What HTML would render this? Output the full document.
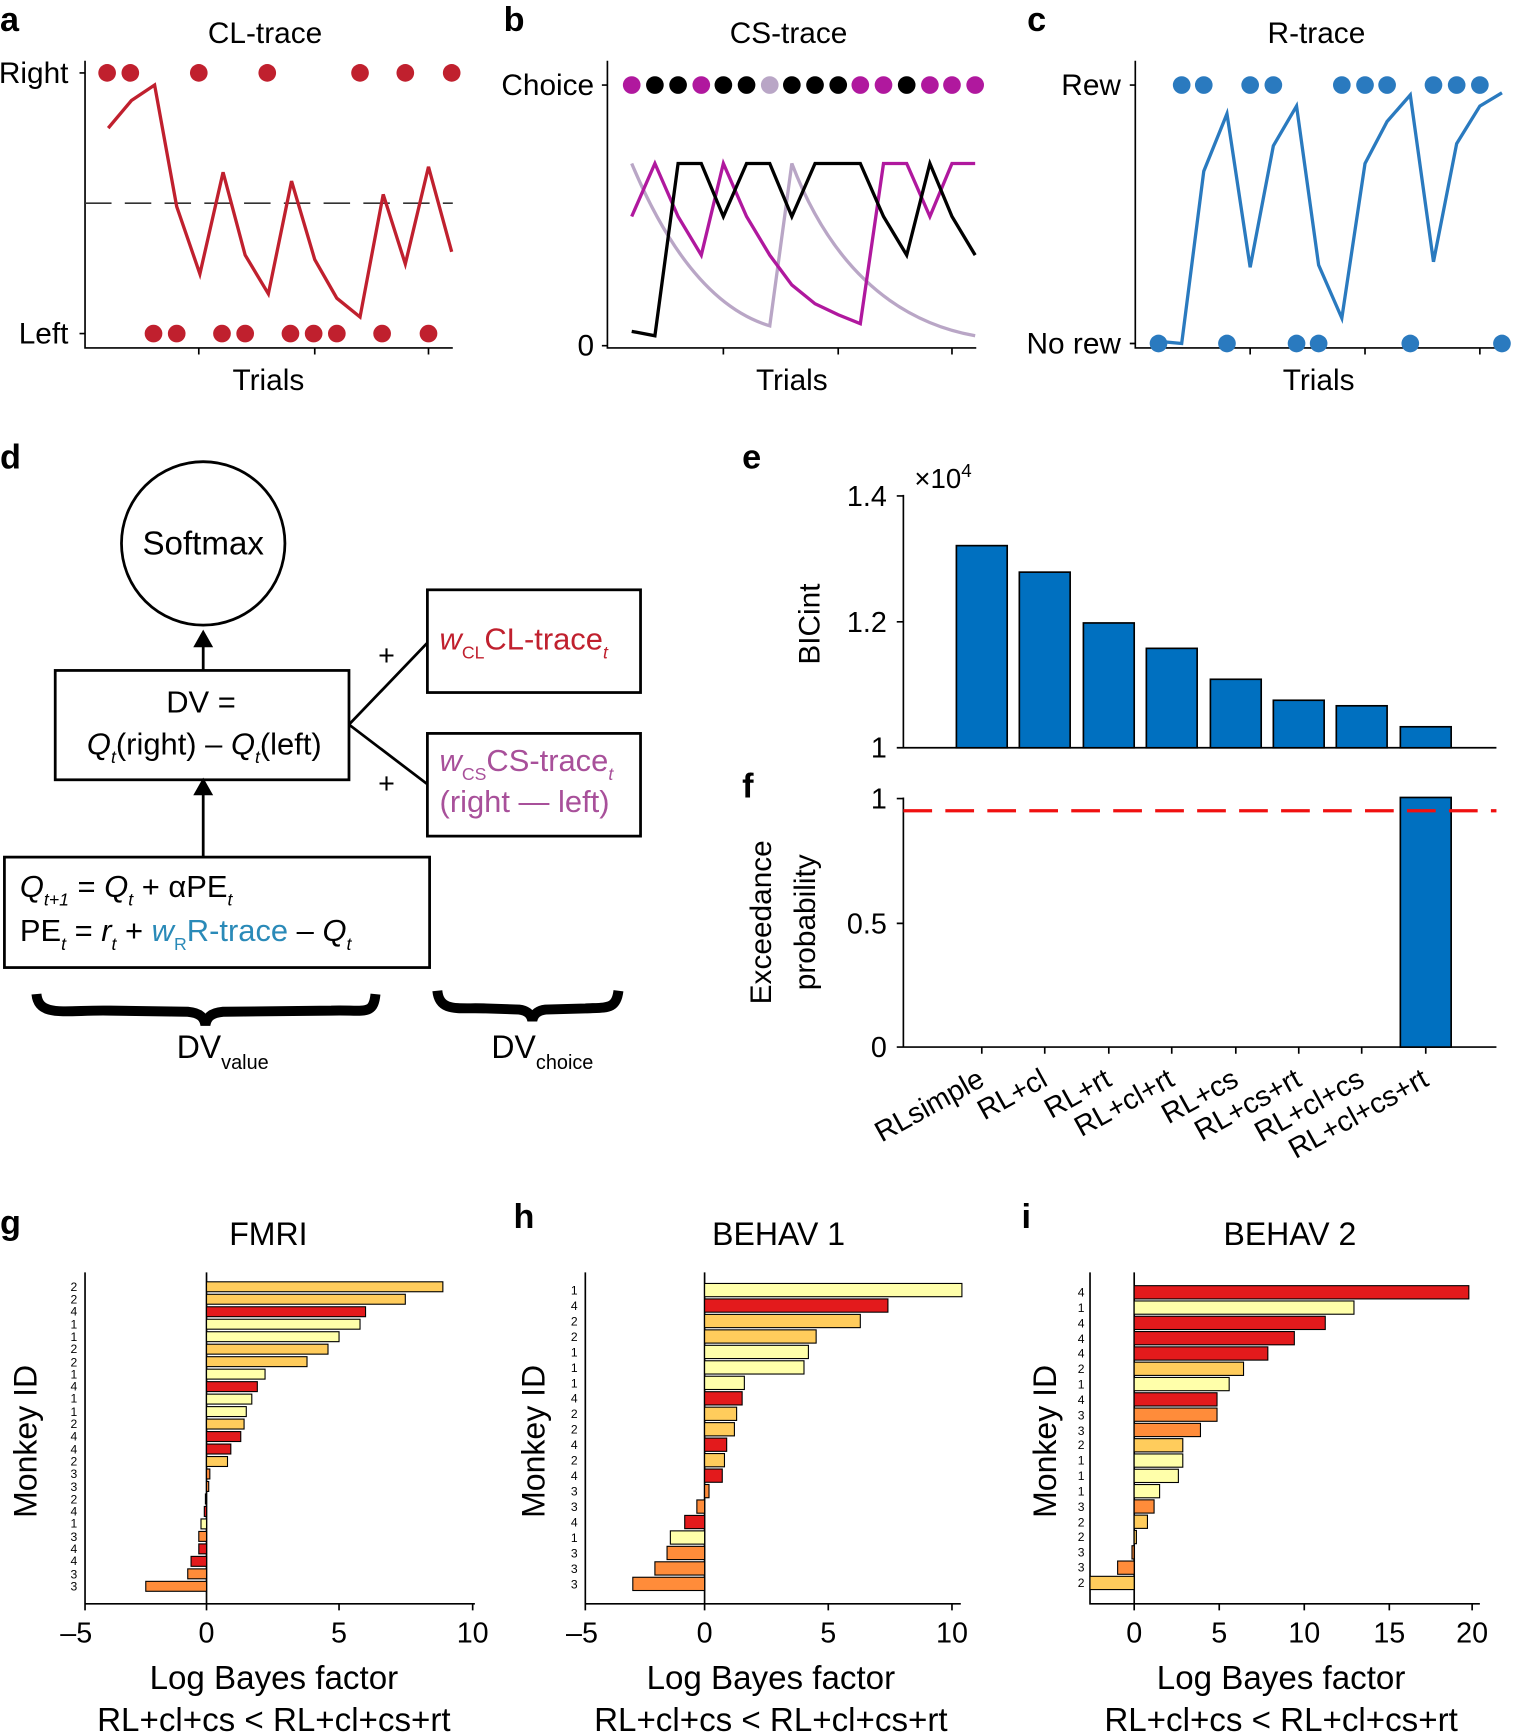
<!DOCTYPE html>
<html><head><meta charset="utf-8"><style>
html,body{margin:0;padding:0;background:#fff}
svg{display:block}
text{font-family:"Liberation Sans",Arial,sans-serif;fill:#000}
.t{font-size:27px}.tk{font-size:26px}.lb{font-size:31px;font-weight:bold}.sm{font-size:11px}
</style></head><body>
<svg width="1513" height="1733" viewBox="0 0 1370 1569" preserveAspectRatio="none" xmlns="http://www.w3.org/2000/svg">
<g stroke="#000" stroke-width="1.5" fill="none">
<path d="M77,55V315H410M72,66H77M72,302H77M180,315v6M285,315v6M388,315v6"/>
<path d="M77,184H410" stroke="#333" stroke-dasharray="24,12"/>
<path d="M550,55V315H884M545,77H550M545,313H550M655,315v6M759,315v6M862,315v6"/>
<path d="M1028,55V315H1362M1023,77H1028M1023,311H1028M1132,315v6M1236,315v6M1340,315v6"/>
</g>
<text class="lb" x="0" y="28">a</text><text class="lb" x="456" y="28">b</text><text class="lb" x="930" y="28">c</text>
<text class="t" x="240" y="39" text-anchor="middle">CL-trace</text>
<text class="t" x="714" y="39" text-anchor="middle">CS-trace</text>
<text class="t" x="1192" y="39" text-anchor="middle">R-trace</text>
<text class="t" x="62" y="75" text-anchor="end">Right</text><text class="t" x="62" y="311" text-anchor="end">Left</text>
<text class="t" x="538" y="86" text-anchor="end">Choice</text><text class="t" x="538" y="322" text-anchor="end">0</text>
<text class="t" x="1015" y="86" text-anchor="end">Rew</text><text class="t" x="1015" y="320" text-anchor="end">No rew</text>
<text class="t" x="243" y="353" text-anchor="middle">Trials</text>
<text class="t" x="717" y="353" text-anchor="middle">Trials</text>
<text class="t" x="1194" y="353" text-anchor="middle">Trials</text>
<g fill="#c0202e">
<circle cx="97" cy="66" r="8"/><circle cx="118" cy="66" r="8"/><circle cx="180" cy="66" r="8"/><circle cx="242" cy="66" r="8"/><circle cx="326" cy="66" r="8"/><circle cx="367" cy="66" r="8"/><circle cx="409" cy="66" r="8"/>
<circle cx="139" cy="302" r="8"/><circle cx="160" cy="302" r="8"/><circle cx="201" cy="302" r="8"/><circle cx="222" cy="302" r="8"/><circle cx="263" cy="302" r="8"/><circle cx="284" cy="302" r="8"/><circle cx="305" cy="302" r="8"/><circle cx="346" cy="302" r="8"/><circle cx="388" cy="302" r="8"/>
</g>
<polyline fill="none" stroke="#c0202e" stroke-width="3" points="98,116 119,91 140,77 160,187 181,248 202,156 222,231 243,266 264,164 285,235 305,270 326,287 347,176 367,239 388,151 409,228"/>
<g>
<circle cx="572" cy="77" r="8" fill="#b0189e"/><circle cx="593" cy="77" r="8"/><circle cx="614" cy="77" r="8"/><circle cx="635" cy="77" r="8" fill="#b0189e"/><circle cx="655" cy="77" r="8"/><circle cx="676" cy="77" r="8"/><circle cx="697" cy="77" r="8" fill="#b9a6c6"/><circle cx="717" cy="77" r="8"/><circle cx="738" cy="77" r="8"/><circle cx="759" cy="77" r="8"/><circle cx="779" cy="77" r="8" fill="#b0189e"/><circle cx="800" cy="77" r="8" fill="#b0189e"/><circle cx="821" cy="77" r="8"/><circle cx="842" cy="77" r="8" fill="#b0189e"/><circle cx="862" cy="77" r="8" fill="#b0189e"/><circle cx="883" cy="77" r="8" fill="#b0189e"/>
</g>
<path d="M572,148C600,215 640,278 697,295L717,148C750,235 805,290 883,304" fill="none" stroke="#b9a6c6" stroke-width="3"/>
<polyline fill="none" stroke="#b0189e" stroke-width="3" points="572,196 593,148 614,196 635,231 655,148 676,196 697,231 717,258 738,275 759,285 779,293 800,148 821,148 842,196 862,148 883,148"/>
<polyline fill="none" stroke="#000" stroke-width="3" points="572,300 593,304 614,148 635,148 655,196 676,148 697,148 717,196 738,148 759,148 779,148 800,196 821,231 842,148 862,196 883,231"/>
<g fill="#2a7abf">
<circle cx="1070" cy="77" r="8"/><circle cx="1090" cy="77" r="8"/><circle cx="1132" cy="77" r="8"/><circle cx="1153" cy="77" r="8"/><circle cx="1215" cy="77" r="8"/><circle cx="1236" cy="77" r="8"/><circle cx="1256" cy="77" r="8"/><circle cx="1298" cy="77" r="8"/><circle cx="1319" cy="77" r="8"/><circle cx="1340" cy="77" r="8"/>
<circle cx="1049" cy="311" r="8"/><circle cx="1111" cy="311" r="8"/><circle cx="1174" cy="311" r="8"/><circle cx="1194" cy="311" r="8"/><circle cx="1277" cy="311" r="8"/><circle cx="1360" cy="311" r="8"/>
</g>
<polyline fill="none" stroke="#2a7abf" stroke-width="3" points="1049,309 1070,311 1090,155 1111,103 1132,242 1153,132 1174,96 1194,240 1215,288 1236,148 1256,110 1277,86 1298,237 1319,130 1340,96 1360,84"/>

<text class="lb" x="0" y="424">d</text>
<g stroke="#000" stroke-width="2.5" fill="none">
<circle cx="184" cy="492" r="74"/>
<rect x="50" y="607" width="266" height="99"/>
<rect x="4" y="776" width="385" height="100"/>
<rect x="387" y="534" width="193" height="93"/>
<rect x="387" y="664" width="193" height="93"/>
<path d="M184,776V716M184,607V580M316,656L387,582M316,656L387,710"/>
</g>
<path d="M175,720L184,704L193,720ZM175,586L184,570L193,586Z" fill="#000"/>
<text x="184" y="502" text-anchor="middle" style="font-size:30px">Softmax</text>
<text x="182" y="645" text-anchor="middle" style="font-size:28px">DV =</text>
<text x="185" y="683" text-anchor="middle" style="font-size:28px"><tspan font-style="italic">Q</tspan><tspan font-size="16" font-style="italic" dy="8">t</tspan><tspan dy="-8">(right) – </tspan><tspan font-style="italic">Q</tspan><tspan font-size="16" font-style="italic" dy="8">t</tspan><tspan dy="-8">(left)</tspan></text>
<text x="350" y="602" text-anchor="middle" style="font-size:26px">+</text>
<text x="350" y="718" text-anchor="middle" style="font-size:26px">+</text>
<text x="398" y="588" style="font-size:28px;fill:#c0202e"><tspan font-style="italic" style="fill:#c0202e">w</tspan><tspan font-size="16" dy="8" style="fill:#c0202e">CL</tspan><tspan dy="-8" style="fill:#c0202e">CL-trace</tspan><tspan font-size="16" font-style="italic" dy="8" style="fill:#c0202e">t</tspan></text>
<text x="398" y="698" style="font-size:28px;fill:#a8509a"><tspan font-style="italic" style="fill:#a8509a">w</tspan><tspan font-size="16" dy="8" style="fill:#a8509a">CS</tspan><tspan dy="-8" style="fill:#a8509a">CS-trace</tspan><tspan font-size="16" font-style="italic" dy="8" style="fill:#a8509a">t</tspan></text>
<text x="398" y="735" style="font-size:28px;fill:#a8509a">(right — left)</text>
<text x="18" y="812" style="font-size:28px"><tspan font-style="italic">Q</tspan><tspan font-size="16" font-style="italic" dy="8">t+1</tspan><tspan dy="-8"> = </tspan><tspan font-style="italic">Q</tspan><tspan font-size="16" font-style="italic" dy="8">t</tspan><tspan dy="-8"> + αPE</tspan><tspan font-size="16" font-style="italic" dy="8">t</tspan></text>
<text x="18" y="852" style="font-size:28px"><tspan>PE</tspan><tspan font-size="16" font-style="italic" dy="8">t</tspan><tspan dy="-8">  = </tspan><tspan font-style="italic">r</tspan><tspan font-size="16" font-style="italic" dy="8">t</tspan><tspan dy="-8"> + </tspan><tspan font-style="italic" style="fill:#2a8ab8">w</tspan><tspan font-size="16" dy="8" style="fill:#2a8ab8">R</tspan><tspan dy="-8" style="fill:#2a8ab8">R-trace</tspan><tspan> – </tspan><tspan font-style="italic">Q</tspan><tspan font-size="16" font-style="italic" dy="8">t</tspan></text>
<path d="M33,900C35,922 60,914 100,915L170,916C182,917 185,922 186,928C187,922 190,917 202,916L300,915C330,914 338,920 340,900" fill="none" stroke="#000" stroke-width="9"/>
<path d="M396,897C398,917 415,912 440,913L470,914C478,915 481,919 482,924C483,919 486,915 494,914L530,913C550,912 558,914 560,897" fill="none" stroke="#000" stroke-width="9"/>
<text x="160" y="958" style="font-size:29px">DV<tspan font-size="18" dy="10">value</tspan></text>
<text x="445" y="958" style="font-size:29px">DV<tspan font-size="18" dy="10">choice</tspan></text>

<text class="lb" x="672" y="424">e</text>
<g stroke="#000" stroke-width="1.5" fill="none"><path d="M818,448V677H1355M812,449H818M812,563H818M812,677H818"/></g>
<text class="tk" x="803" y="458" text-anchor="end">1.4</text>
<text class="tk" x="803" y="572" text-anchor="end">1.2</text>
<text class="tk" x="803" y="686" text-anchor="end">1</text>
<text x="828" y="442" style="font-size:25px">×10<tspan font-size="17" dy="-10">4</tspan></text>
<text class="t" transform="translate(742,565) rotate(-90)" text-anchor="middle">BICint</text>
<g fill="#0070c0" stroke="#000" stroke-width="1.5">
<rect x="866" y="494" width="46" height="183"/><rect x="923" y="518" width="46" height="159"/><rect x="981" y="564" width="46" height="113"/><rect x="1038" y="587" width="46" height="90"/><rect x="1096" y="615" width="46" height="62"/><rect x="1153" y="634" width="46" height="43"/><rect x="1210" y="639" width="46" height="38"/><rect x="1268" y="658" width="46" height="19"/>
</g>
<text class="lb" x="672" y="722">f</text>
<g stroke="#000" stroke-width="1.5" fill="none"><path d="M818,722V948H1355M812,723H818M812,836H818M812,948H818M889,948v6M946,948v6M1004,948v6M1061,948v6M1119,948v6M1176,948v6M1233,948v6M1291,948v6"/></g>
<rect x="1268" y="722" width="46" height="226" fill="#0070c0" stroke="#000" stroke-width="1.5"/>
<path d="M818,734H1355" stroke="#f01010" stroke-width="3" stroke-dasharray="26,12"/>
<text class="tk" x="803" y="732" text-anchor="end">1</text>
<text class="tk" x="803" y="845" text-anchor="end">0.5</text>
<text class="tk" x="803" y="957" text-anchor="end">0</text>
<text class="t" transform="translate(698,835) rotate(-90)" text-anchor="middle">Exceedance</text>
<text class="t" transform="translate(738,835) rotate(-90)" text-anchor="middle">probability</text>
<text class="tk" transform="translate(893,982) rotate(-29)" text-anchor="end">RLsimple</text>
<text class="tk" transform="translate(950,982) rotate(-29)" text-anchor="end">RL+cl</text>
<text class="tk" transform="translate(1008,982) rotate(-29)" text-anchor="end">RL+rt</text>
<text class="tk" transform="translate(1065,982) rotate(-29)" text-anchor="end">RL+cl+rt</text>
<text class="tk" transform="translate(1123,982) rotate(-29)" text-anchor="end">RL+cs</text>
<text class="tk" transform="translate(1180,982) rotate(-29)" text-anchor="end">RL+cs+rt</text>
<text class="tk" transform="translate(1237,982) rotate(-29)" text-anchor="end">RL+cl+cs</text>
<text class="tk" transform="translate(1295,982) rotate(-29)" text-anchor="end">RL+cl+cs+rt</text>

<text class="lb" x="0" y="1117">g</text><text class="lb" x="465" y="1112">h</text><text class="lb" x="925" y="1112">i</text>
<text x="243" y="1127" text-anchor="middle" style="font-size:29px">FMRI</text>
<text x="705" y="1127" text-anchor="middle" style="font-size:29px">BEHAV 1</text>
<text x="1168" y="1127" text-anchor="middle" style="font-size:29px">BEHAV 2</text>
<text transform="translate(33,1305) rotate(-90)" text-anchor="middle" style="font-size:29px">Monkey ID</text>
<text transform="translate(493,1305) rotate(-90)" text-anchor="middle" style="font-size:29px">Monkey ID</text>
<text transform="translate(956,1305) rotate(-90)" text-anchor="middle" style="font-size:29px">Monkey ID</text>
<g stroke="#000" stroke-width="1.5" fill="none">
<path d="M77,1152V1452H430M77,1452v6M187,1452v6M307,1452v6M428,1452v6M187,1152V1452"/>
<path d="M530,1152V1452H870M530,1452v6M638,1452v6M750,1452v6M862,1452v6M638,1152V1452"/>
<path d="M987,1152V1452H1340M1027,1452v6M1104,1452v6M1181,1452v6M1258,1452v6M1333,1452v6M1027,1152V1452"/>
</g>
<text class="tk" x="69" y="1487" text-anchor="middle">–5</text><text class="tk" x="187" y="1487" text-anchor="middle">0</text><text class="tk" x="307" y="1487" text-anchor="middle">5</text><text class="tk" x="428" y="1487" text-anchor="middle">10</text>
<text class="tk" x="527" y="1487" text-anchor="middle">–5</text><text class="tk" x="638" y="1487" text-anchor="middle">0</text><text class="tk" x="750" y="1487" text-anchor="middle">5</text><text class="tk" x="862" y="1487" text-anchor="middle">10</text>
<text class="tk" x="1027" y="1487" text-anchor="middle">0</text><text class="tk" x="1104" y="1487" text-anchor="middle">5</text><text class="tk" x="1181" y="1487" text-anchor="middle">10</text><text class="tk" x="1258" y="1487" text-anchor="middle">15</text><text class="tk" x="1333" y="1487" text-anchor="middle">20</text>
<text x="248" y="1529" text-anchor="middle" style="font-size:30px">Log Bayes factor</text>
<text x="248" y="1567" text-anchor="middle" style="font-size:30px">RL+cl+cs &lt; RL+cl+cs+rt</text>
<text x="698" y="1529" text-anchor="middle" style="font-size:30px">Log Bayes factor</text>
<text x="698" y="1567" text-anchor="middle" style="font-size:30px">RL+cl+cs &lt; RL+cl+cs+rt</text>
<text x="1160" y="1529" text-anchor="middle" style="font-size:30px">Log Bayes factor</text>
<text x="1160" y="1567" text-anchor="middle" style="font-size:30px">RL+cl+cs &lt; RL+cl+cs+rt</text>
<g stroke="#000" stroke-width="1">
<rect x="187" y="1160.5" width="214" height="9" fill="#ffcc5c"/>
<rect x="187" y="1171.8" width="180" height="9" fill="#ffcc5c"/>
<rect x="187" y="1183.1" width="144" height="9" fill="#e31a1c"/>
<rect x="187" y="1194.4" width="139" height="9" fill="#ffffaa"/>
<rect x="187" y="1205.7" width="120" height="9" fill="#ffffaa"/>
<rect x="187" y="1217" width="110" height="9" fill="#ffcc5c"/>
<rect x="187" y="1228.3" width="91" height="9" fill="#ffcc5c"/>
<rect x="187" y="1239.6" width="53" height="9" fill="#ffffaa"/>
<rect x="187" y="1250.9" width="46" height="9" fill="#e31a1c"/>
<rect x="187" y="1262.2" width="41" height="9" fill="#ffffaa"/>
<rect x="187" y="1273.5" width="36" height="9" fill="#ffffaa"/>
<rect x="187" y="1284.8" width="34" height="9" fill="#ffcc5c"/>
<rect x="187" y="1296.1" width="31" height="9" fill="#e31a1c"/>
<rect x="187" y="1307.4" width="22" height="9" fill="#e31a1c"/>
<rect x="187" y="1318.7" width="19" height="9" fill="#ffcc5c"/>
<rect x="187" y="1330" width="3" height="9" fill="#ff8c3a"/>
<rect x="187" y="1341.3" width="2" height="9" fill="#ff8c3a"/>
<rect x="186" y="1352.6" width="1" height="9" fill="#ffcc5c"/>
<rect x="185" y="1363.9" width="2" height="9" fill="#e31a1c"/>
<rect x="182" y="1375.2" width="5" height="9" fill="#ffffaa"/>
<rect x="180" y="1386.5" width="7" height="9" fill="#ff8c3a"/>
<rect x="180" y="1397.8" width="7" height="9" fill="#e31a1c"/>
<rect x="173" y="1409.1" width="14" height="9" fill="#e31a1c"/>
<rect x="170" y="1420.4" width="17" height="9" fill="#ff8c3a"/>
<rect x="132" y="1431.7" width="55" height="9" fill="#ff8c3a"/>
</g>
<g>
<text class="sm" x="70" y="1169" text-anchor="end">2</text><text class="sm" x="70" y="1180" text-anchor="end">2</text><text class="sm" x="70" y="1191" text-anchor="end">4</text><text class="sm" x="70" y="1203" text-anchor="end">1</text><text class="sm" x="70" y="1214" text-anchor="end">1</text><text class="sm" x="70" y="1225" text-anchor="end">2</text><text class="sm" x="70" y="1237" text-anchor="end">2</text><text class="sm" x="70" y="1248" text-anchor="end">1</text><text class="sm" x="70" y="1259" text-anchor="end">4</text><text class="sm" x="70" y="1270" text-anchor="end">1</text><text class="sm" x="70" y="1282" text-anchor="end">1</text><text class="sm" x="70" y="1293" text-anchor="end">2</text><text class="sm" x="70" y="1304" text-anchor="end">4</text><text class="sm" x="70" y="1316" text-anchor="end">4</text><text class="sm" x="70" y="1327" text-anchor="end">2</text><text class="sm" x="70" y="1338" text-anchor="end">3</text><text class="sm" x="70" y="1350" text-anchor="end">3</text><text class="sm" x="70" y="1361" text-anchor="end">2</text><text class="sm" x="70" y="1372" text-anchor="end">4</text><text class="sm" x="70" y="1383" text-anchor="end">1</text><text class="sm" x="70" y="1395" text-anchor="end">3</text><text class="sm" x="70" y="1406" text-anchor="end">4</text><text class="sm" x="70" y="1417" text-anchor="end">4</text><text class="sm" x="70" y="1429" text-anchor="end">3</text><text class="sm" x="70" y="1440" text-anchor="end">3</text>
</g>
<g stroke="#000" stroke-width="1">
<rect x="638" y="1162" width="233" height="12" fill="#ffffaa"/>
<rect x="638" y="1176" width="166" height="12" fill="#e31a1c"/>
<rect x="638" y="1190" width="141" height="12" fill="#ffcc5c"/>
<rect x="638" y="1204" width="101" height="12" fill="#ffcc5c"/>
<rect x="638" y="1218" width="94" height="12" fill="#ffffaa"/>
<rect x="638" y="1232" width="90" height="12" fill="#ffffaa"/>
<rect x="638" y="1246" width="36" height="12" fill="#ffffaa"/>
<rect x="638" y="1260" width="34" height="12" fill="#e31a1c"/>
<rect x="638" y="1274" width="29" height="12" fill="#ffcc5c"/>
<rect x="638" y="1288" width="27" height="12" fill="#ffcc5c"/>
<rect x="638" y="1302" width="20" height="12" fill="#e31a1c"/>
<rect x="638" y="1316" width="18" height="12" fill="#ffcc5c"/>
<rect x="638" y="1330" width="16" height="12" fill="#e31a1c"/>
<rect x="638" y="1344" width="4" height="12" fill="#ff8c3a"/>
<rect x="631" y="1358" width="7" height="12" fill="#ff8c3a"/>
<rect x="620" y="1372" width="18" height="12" fill="#e31a1c"/>
<rect x="607" y="1386" width="31" height="12" fill="#ffffaa"/>
<rect x="604" y="1400" width="34" height="12" fill="#ff8c3a"/>
<rect x="593" y="1414" width="45" height="12" fill="#ff8c3a"/>
<rect x="573" y="1428" width="65" height="12" fill="#ff8c3a"/>
</g>
<g>
<text class="sm" x="523" y="1172" text-anchor="end">1</text><text class="sm" x="523" y="1186" text-anchor="end">4</text><text class="sm" x="523" y="1200" text-anchor="end">2</text><text class="sm" x="523" y="1214" text-anchor="end">2</text><text class="sm" x="523" y="1228" text-anchor="end">1</text><text class="sm" x="523" y="1242" text-anchor="end">1</text><text class="sm" x="523" y="1256" text-anchor="end">1</text><text class="sm" x="523" y="1270" text-anchor="end">4</text><text class="sm" x="523" y="1284" text-anchor="end">2</text><text class="sm" x="523" y="1298" text-anchor="end">2</text><text class="sm" x="523" y="1312" text-anchor="end">4</text><text class="sm" x="523" y="1326" text-anchor="end">2</text><text class="sm" x="523" y="1340" text-anchor="end">4</text><text class="sm" x="523" y="1354" text-anchor="end">3</text><text class="sm" x="523" y="1368" text-anchor="end">3</text><text class="sm" x="523" y="1382" text-anchor="end">4</text><text class="sm" x="523" y="1396" text-anchor="end">1</text><text class="sm" x="523" y="1410" text-anchor="end">3</text><text class="sm" x="523" y="1424" text-anchor="end">3</text><text class="sm" x="523" y="1438" text-anchor="end">3</text>
</g>
<g stroke="#000" stroke-width="1">
<rect x="1027" y="1164" width="303" height="12" fill="#e31a1c"/>
<rect x="1027" y="1177.85" width="199" height="12" fill="#ffffaa"/>
<rect x="1027" y="1191.7" width="173" height="12" fill="#e31a1c"/>
<rect x="1027" y="1205.55" width="145" height="12" fill="#e31a1c"/>
<rect x="1027" y="1219.4" width="121" height="12" fill="#e31a1c"/>
<rect x="1027" y="1233.25" width="99" height="12" fill="#ffcc5c"/>
<rect x="1027" y="1247.1" width="86" height="12" fill="#ffffaa"/>
<rect x="1027" y="1260.95" width="75" height="12" fill="#e31a1c"/>
<rect x="1027" y="1274.8" width="75" height="12" fill="#ff8c3a"/>
<rect x="1027" y="1288.65" width="60" height="12" fill="#ff8c3a"/>
<rect x="1027" y="1302.5" width="44" height="12" fill="#ffcc5c"/>
<rect x="1027" y="1316.35" width="44" height="12" fill="#ffffaa"/>
<rect x="1027" y="1330.2" width="40" height="12" fill="#ffffaa"/>
<rect x="1027" y="1344.05" width="23" height="12" fill="#ffffaa"/>
<rect x="1027" y="1357.9" width="18" height="12" fill="#ff8c3a"/>
<rect x="1027" y="1371.75" width="12" height="12" fill="#ffcc5c"/>
<rect x="1027" y="1385.6" width="2" height="12" fill="#ffcc5c"/>
<rect x="1025" y="1399.45" width="2" height="12" fill="#ff8c3a"/>
<rect x="1012" y="1413.3" width="15" height="12" fill="#ff8c3a"/>
<rect x="987" y="1427.15" width="40" height="12" fill="#ffcc5c"/>
</g>
<g>
<text class="sm" x="982" y="1174" text-anchor="end">4</text><text class="sm" x="982" y="1188" text-anchor="end">1</text><text class="sm" x="982" y="1202" text-anchor="end">4</text><text class="sm" x="982" y="1216" text-anchor="end">4</text><text class="sm" x="982" y="1229" text-anchor="end">4</text><text class="sm" x="982" y="1243" text-anchor="end">2</text><text class="sm" x="982" y="1257" text-anchor="end">1</text><text class="sm" x="982" y="1271" text-anchor="end">4</text><text class="sm" x="982" y="1285" text-anchor="end">3</text><text class="sm" x="982" y="1299" text-anchor="end">3</text><text class="sm" x="982" y="1312" text-anchor="end">2</text><text class="sm" x="982" y="1326" text-anchor="end">1</text><text class="sm" x="982" y="1340" text-anchor="end">1</text><text class="sm" x="982" y="1354" text-anchor="end">1</text><text class="sm" x="982" y="1368" text-anchor="end">3</text><text class="sm" x="982" y="1382" text-anchor="end">2</text><text class="sm" x="982" y="1395" text-anchor="end">2</text><text class="sm" x="982" y="1409" text-anchor="end">3</text><text class="sm" x="982" y="1423" text-anchor="end">3</text><text class="sm" x="982" y="1437" text-anchor="end">2</text>
</g>
</svg>
</body></html>
